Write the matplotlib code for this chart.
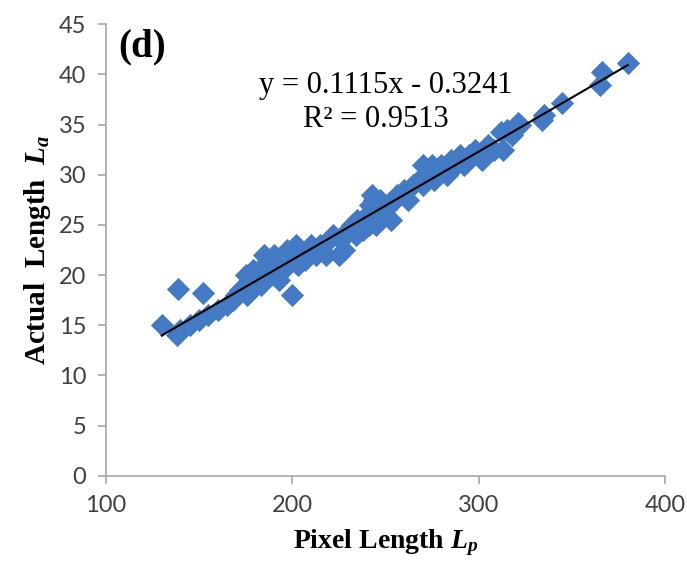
import numpy as np
import matplotlib
matplotlib.use("Agg")
import matplotlib.pyplot as plt

# pixel length vs actual length
pixel_len = [130, 138, 140, 139, 145, 150, 152, 155, 160, 165, 168, 170, 172,
             175, 175, 178, 180, 182, 185, 185, 188, 190, 192, 195, 198, 200,
             200, 202, 205, 207, 210, 212, 215, 220, 222, 225, 228, 230, 232,
             235, 238, 240, 242, 243, 245, 247, 250, 252, 255, 258, 260, 265,
             268, 270, 272, 275, 278, 280, 285, 288, 290, 292, 295, 298, 300,
             305, 312, 313, 315, 318, 321, 322, 334, 335, 345, 365, 366, 380,
             176, 183, 187, 193, 197, 203, 208, 218, 226, 234, 241, 244, 248,
             253, 262, 270, 276, 283, 294, 302, 308, 179, 190, 213, 237, 256]
actual_len = [15.0, 14.0, 14.5, 18.6, 15.0, 15.5, 18.2, 16.0, 16.5, 17.0, 17.5,
              18.0, 18.5, 19.0, 20.0, 18.5, 19.5, 20.0, 21.0, 22.0, 21.5, 20.0,
              21.0, 20.5, 21.0, 18.0, 22.0, 23.0, 22.0, 21.5, 23.0, 22.5, 23.0,
              23.5, 24.0, 22.0, 22.5, 24.5, 25.0, 25.5, 24.5, 26.0, 27.0, 28.0,
              25.0, 27.5, 26.5, 27.0, 27.5, 28.0, 28.5, 29.0, 29.5, 31.0, 30.0,
              31.0, 30.5, 31.0, 31.5, 31.0, 32.0, 31.0, 32.0, 32.5, 32.0, 33.0,
              34.3, 32.5, 34.5, 34.0, 35.2, 35.0, 35.5, 36.0, 37.1, 38.9, 40.2, 41.1,
              18.0, 19.0, 20.5, 19.5, 22.5, 21.0, 22.0, 22.0, 23.5, 24.0, 25.0, 27.5,
              26.0, 25.5, 27.5, 29.0, 29.5, 30.0, 31.5, 31.5, 32.5, 20.5, 22.0,
              22.0, 25.0, 28.0]

plt.rcParams["mathtext.fontset"] = "custom"
plt.rcParams["mathtext.it"] = "Liberation Serif:italic:bold"
plt.rcParams["mathtext.rm"] = "Liberation Serif:bold"

fig = plt.figure(figsize=(6.87, 5.76), dpi=100)
ax = fig.add_axes([0.154, 0.174, 0.814, 0.784])

x = np.array(pixel_len)
y = np.array(actual_len)
ax.scatter(x, y, marker="D", s=140, color="#4479C4", linewidths=0, zorder=2)

# linear trendline
k, b = np.polyfit(x, y, 1)
xs = np.array([x.min(), x.max()])
ax.plot(xs, k * xs + b, color="black", lw=1.5, zorder=3)

ax.set_xlim(100, 400)
ax.set_ylim(0, 45)
ax.set_xticks([100, 200, 300, 400])
ax.set_yticks(range(0, 50, 5))

grey = "#A6A6A6"
for side in ["top", "right"]:
    ax.spines[side].set_visible(False)
for side in ["left", "bottom"]:
    ax.spines[side].set_color(grey)
    ax.spines[side].set_linewidth(1.2)
ax.tick_params(direction="out", length=6, width=1.2, color=grey,
               labelsize=17, labelcolor="#404040", pad=8)
for lab in ax.get_xticklabels() + ax.get_yticklabels():
    lab.set_family("Lato")

ax.set_xlabel(r"Pixel Length $L_p$", family="Liberation Serif",
              fontweight="bold", fontsize=20, labelpad=8)
ax.set_ylabel(r"Actual  Length  $L_a$", family="Liberation Serif",
              fontweight="bold", fontsize=21, labelpad=4)

ax.text(0.022, 0.99, "(d)", transform=ax.transAxes, family="Liberation Serif",
        fontweight="bold", fontsize=28, va="top")
ax.text(0.50, 0.865, "y = 0.1115x - 0.3241", transform=ax.transAxes,
        family="Liberation Serif", fontsize=22, ha="center", va="center")
ax.text(0.483, 0.788, "R² = 0.9513", transform=ax.transAxes,
        family="Liberation Serif", fontsize=22, ha="center", va="center")

fig.savefig("out.png", dpi=100)
